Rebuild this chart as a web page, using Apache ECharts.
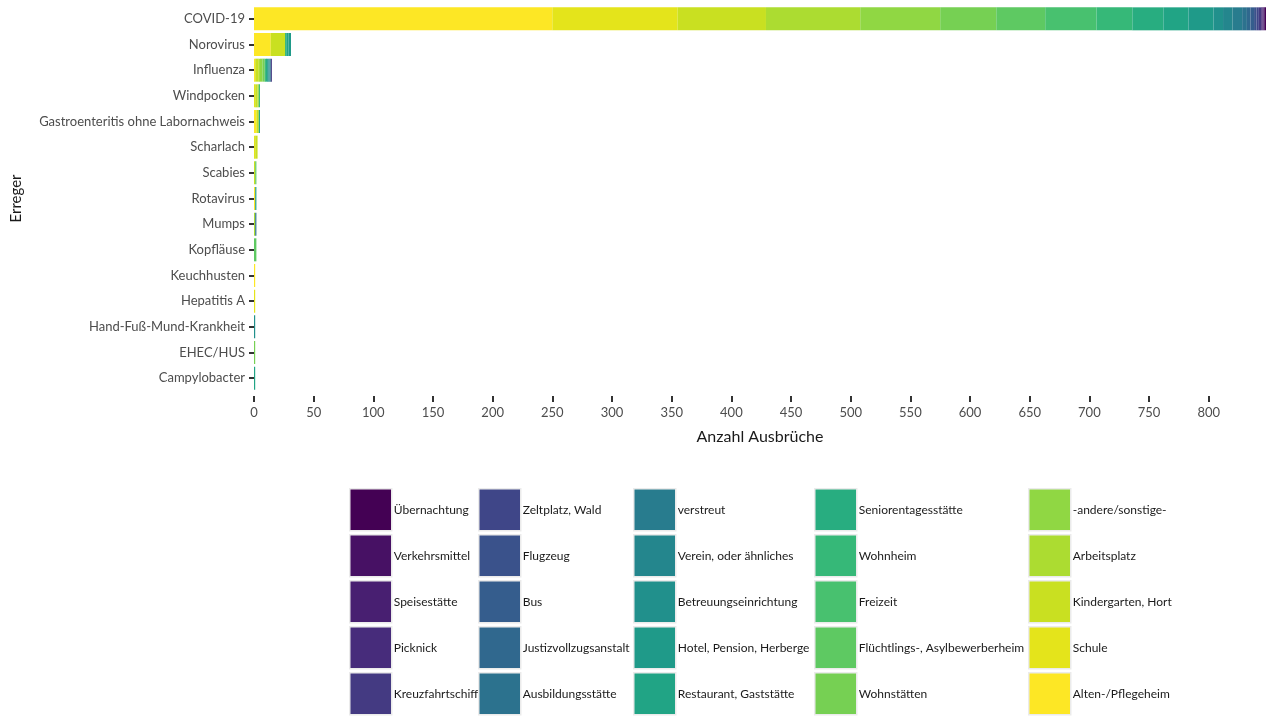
<!DOCTYPE html>
<html>
<head>
<meta charset="utf-8">
<script src="https://cdn.jsdelivr.net/npm/echarts@6/dist/echarts.min.js"></script>
<style>
  html, body { margin: 0; padding: 0; background: #fff; }
  #main { width: 1266px; height: 716px; }
</style>
</head>
<body>
<div id="main"></div>
<script>
// Erreger, von oben nach unten
const erreger = ['COVID-19', 'Norovirus', 'Influenza', 'Windpocken', 'Gastroenteritis ohne Labornachweis',
  'Scharlach', 'Scabies', 'Rotavirus', 'Mumps', 'Kopfläuse', 'Keuchhusten', 'Hepatitis A',
  'Hand-Fuß-Mund-Krankheit', 'EHEC/HUS', 'Campylobacter'];

// Ausbruchsorte in Legendenreihenfolge (Spalten von oben nach unten)
const orte = ['Übernachtung', 'Verkehrsmittel', 'Speisestätte', 'Picknick', 'Kreuzfahrtschiff',
  'Zeltplatz, Wald', 'Flugzeug', 'Bus', 'Justizvollzugsanstalt', 'Ausbildungsstätte',
  'verstreut', 'Verein, oder ähnliches', 'Betreuungseinrichtung', 'Hotel, Pension, Herberge', 'Restaurant, Gaststätte',
  'Seniorentagesstätte', 'Wohnheim', 'Freizeit', 'Flüchtlings-, Asylbewerberheim', 'Wohnstätten',
  '-andere/sonstige-', 'Arbeitsplatz', 'Kindergarten, Hort', 'Schule', 'Alten-/Pflegeheim'];

// Anzahl Ausbrüche je Ort, in Erreger-Reihenfolge
const uebernachtung   = [1, 0, 0, 0, 0, 0, 0, 0, 0, 0, 0, 0, 0, 0, 0];
const verkehrsmittel  = [1, 0, 0, 0, 0, 0, 0, 0, 0, 0, 0, 0, 0, 0, 0];
const speisestaette   = [1, 0, 0, 0, 0, 0, 0, 0, 0, 0, 0, 0, 0, 0, 0];
const picknick        = [1, 0, 0, 0, 0, 0, 0, 0, 0, 0, 0, 0, 0, 0, 0];
const kreuzfahrt      = [2, 0, 1, 0, 0, 0, 0, 0, 0, 0, 0, 0, 0, 0, 0];
const zeltplatz       = [2, 0, 0, 0, 0, 0, 0, 0, 0, 0, 0, 0, 0, 0, 0];
const flugzeug        = [2, 0, 0, 0, 0, 0, 0, 0, 0, 0, 0, 0, 0, 0, 0];
const bus             = [3, 0, 0, 0, 0, 0, 0, 0, 0, 0, 0, 0, 0, 0, 0];
const justiz          = [3, 0, 0, 0, 0, 0, 0, 0, 0, 0, 0, 0, 0, 0, 0];
const ausbildung      = [4, 0, 0, 0, 0, 0, 0, 0, 1, 0, 0, 0, 0, 0, 0];
const verstreut       = [8, 0, 0, 0, 0, 0, 0, 0, 0, 0, 0, 0, 0, 0, 0];
const verein          = [8, 0, 1, 0, 0, 0, 0, 0, 0, 0, 0, 0, 0, 0, 0];
const betreuung       = [8, 0, 1, 0, 0, 0, 0, 0, 0, 0, 0, 0, 1, 0, 0];
const hotel           = [21, 2, 1, 0, 0, 0, 0, 1, 0, 0, 0, 0, 0, 0, 0];
const restaurant      = [21, 2, 0, 0, 1, 0, 0, 0, 0, 0, 0, 0, 0, 0, 1];
const senioren        = [26, 0, 1, 0, 0, 0, 0, 0, 0, 0, 0, 0, 0, 0, 0];
const wohnheim        = [30, 1, 1, 1, 0, 0, 0, 0, 0, 0, 0, 0, 0, 0, 0];
const freizeit        = [43, 0, 0, 0, 0, 0, 0, 0, 0, 0, 0, 0, 0, 0, 0];
const fluechtlinge    = [41, 0, 0, 0, 0, 0, 1, 0, 0, 2, 0, 0, 0, 0, 0];
const wohnstaetten    = [47, 0, 2, 0, 0, 0, 0, 0, 0, 0, 0, 0, 0, 1, 0];
const andere          = [67, 0, 2, 0, 0, 0, 0, 0, 0, 0, 0, 0, 0, 0, 0];
const arbeitsplatz    = [79, 0, 1, 1, 0, 0, 0, 0, 1, 0, 0, 0, 0, 0, 0];
const kindergarten    = [74, 12, 3, 2, 2, 2, 1, 0, 0, 0, 0, 0, 0, 0, 0];
const schule          = [105, 0, 0, 1, 0, 1, 0, 0, 0, 0, 0, 1, 0, 0, 0];
const altenheim       = [250, 14, 1, 0, 2, 0, 0, 1, 0, 0, 1, 0, 0, 0, 0];

const werte = [uebernachtung, verkehrsmittel, speisestaette, picknick, kreuzfahrt,
  zeltplatz, flugzeug, bus, justiz, ausbildung,
  verstreut, verein, betreuung, hotel, restaurant,
  senioren, wohnheim, freizeit, fluechtlinge, wohnstaetten,
  andere, arbeitsplatz, kindergarten, schule, altenheim];

const xTicks = [0, 50, 100, 150, 200, 250, 300, 350, 400, 450, 500, 550, 600, 650, 700, 750, 800];

// viridis, 25 Stufen
const farben = ['#440154', '#471164', '#481F71', '#472C7B', '#443A82', '#3F4688', '#3A528B', '#355D8D',
  '#30688E', '#2C728E', '#287C8E', '#24868D', '#21908C', '#1F9A89', '#21A485', '#28AD80',
  '#36B878', '#48C16F', '#5EC962', '#76D053', '#90D743', '#ACDC31', '#C9E021', '#E4E41B', '#FDE725'];

const font = 'Lato';

// gestapelt ab Alten-/Pflegeheim (links) bis Übernachtung (rechts)
const series = [];
for (let i = orte.length - 1; i >= 0; i--) {
  series.push({
    name: orte[i],
    type: 'bar',
    stack: 'gesamt',
    barWidth: 23,
    data: werte[i],
    itemStyle: { color: farben[i] },
    emphasis: { disabled: true }
  });
}

const legendLeft = [349, 478, 633, 814, 1028];
const legends = legendLeft.map(function (x, c) {
  return {
    orient: 'vertical',
    left: x,
    top: 488,
    height: 300,
    padding: 0,
    itemWidth: 42,
    itemHeight: 42,
    itemGap: 2.5,
    icon: 'rect',
    selectedMode: false,
    itemStyle: { borderColor: '#ebebeb', borderWidth: 1.5 },
    textStyle: { fontFamily: font, fontSize: 12, color: '#1a1a1a', padding: [0, 0, 0, -3] },
    data: orte.slice(c * 5, c * 5 + 5)
  };
});

var myChart = echarts.init(document.getElementById('main'));
myChart.setOption({
  backgroundColor: '#fff',
  animation: false,
  textStyle: { fontFamily: font },
  legend: legends,
  grid: {
    left: 254,
    right: 0,
    top: 6,
    bottom: 325,
    containLabel: false
  },
  xAxis: {
    type: 'value',
    min: 0,
    max: 848,
    interval: 50,
    offset: 5,
    name: 'Anzahl Ausbrüche',
    nameLocation: 'middle',
    nameGap: 33,
    nameTextStyle: { fontFamily: font, fontSize: 16, color: '#1a1a1a' },
    axisLine: { show: false },
    splitLine: { show: false },
    axisTick: {
      show: true,
      length: 6,
      customValues: xTicks,
      lineStyle: { color: '#333', width: 2 }
    },
    axisLabel: {
      customValues: xTicks,
      margin: 10,
      fontFamily: font,
      fontSize: 13,
      color: '#4d4d4d'
    }
  },
  yAxis: {
    type: 'category',
    data: erreger,
    inverse: true,
    offset: 4,
    name: 'Erreger',
    nameLocation: 'middle',
    nameRotate: 90,
    nameGap: 226,
    nameTextStyle: { fontFamily: font, fontSize: 15, color: '#1a1a1a' },
    axisLine: { show: false },
    axisTick: {
      show: true,
      alignWithLabel: true,
      length: 5,
      lineStyle: { color: '#333', width: 2 }
    },
    axisLabel: {
      margin: 5,
      fontFamily: font,
      fontSize: 13,
      color: '#4d4d4d'
    }
  },
  series: series
});
</script>
</body>
</html>
